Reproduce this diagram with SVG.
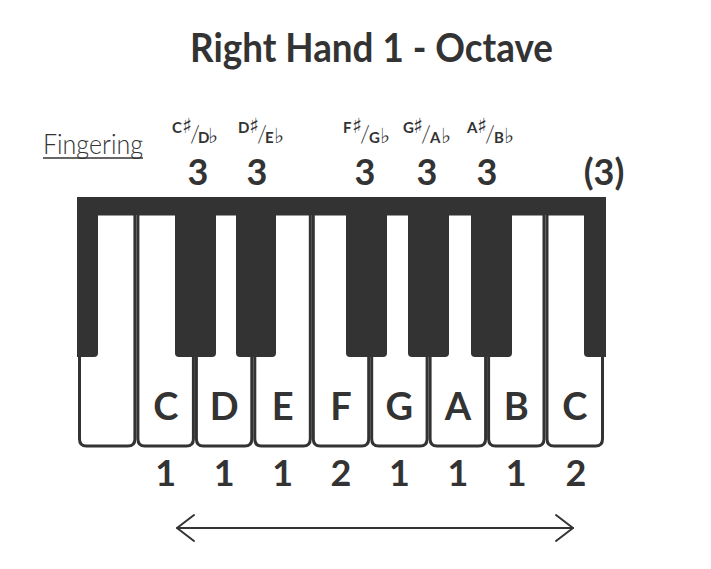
<svg xmlns="http://www.w3.org/2000/svg" width="711" height="569" viewBox="0 0 711 569">
<style>
  text { font-family: Lato, "Liberation Sans", "DejaVu Sans", sans-serif; fill: #333; }
  .title { font-size: 40px; font-weight: bold; }
  .finger { font-size: 36px; font-weight: bold; text-anchor: middle; }
  .note { font-size: 38px; font-weight: bold; text-anchor: middle; }
  .acc { font-size: 15px; font-weight: bold; }
  .sym { font-family: "DejaVu Sans", sans-serif; font-size: 21px; font-weight: normal; fill: #333; }
  .slash { font-size: 23px; font-weight: 300; fill: #333; }
  .label { font-size: 28px; font-weight: 300; }
  .white { fill: #fff; stroke: #333; stroke-width: 3; }
  .black { fill: #333; }
  .conn { fill: none; stroke: #333; stroke-width: 2; stroke-linecap: round; stroke-linejoin: round; }
</style>
<rect width="711" height="569" fill="#fff"/>

<g id="title">
  <text class="title" x="190" y="62" textLength="363" lengthAdjust="spacingAndGlyphs">Right Hand 1 - Octave</text>
</g>

<g id="fingering-label">
  <text class="label" x="43" y="154" textLength="100" lengthAdjust="spacingAndGlyphs">Fingering</text>
  <line x1="43" y1="158" x2="143" y2="158" stroke="#333" stroke-width="1.5"/>
</g>

<g id="accidentals">
  <text id="acc-cs" class="acc" x="172" y="133">C<tspan class="sym" x="182">♯</tspan><tspan class="slash" x="190" y="142">/</tspan><tspan x="198" y="143">D</tspan><tspan class="sym" x="208" y="143">♭</tspan></text>
  <text id="acc-ds" class="acc" x="238" y="133">D<tspan class="sym" x="249">♯</tspan><tspan class="slash" x="257" y="142">/</tspan><tspan x="265" y="143">E</tspan><tspan class="sym" x="274" y="143">♭</tspan></text>
  <text id="acc-fs" class="acc" x="343" y="133">F<tspan class="sym" x="352">♯</tspan><tspan class="slash" x="360" y="142">/</tspan><tspan x="369" y="143">G</tspan><tspan class="sym" x="380" y="143">♭</tspan></text>
  <text id="acc-gs" class="acc" x="403" y="133">G<tspan class="sym" x="413">♯</tspan><tspan class="slash" x="421" y="142">/</tspan><tspan x="430" y="143">A</tspan><tspan class="sym" x="441" y="143">♭</tspan></text>
  <text id="acc-as" class="acc" x="467" y="133">A<tspan class="sym" x="477">♯</tspan><tspan class="slash" x="485" y="142">/</tspan><tspan x="494" y="143">B</tspan><tspan class="sym" x="504" y="143">♭</tspan></text>
</g>

<g id="top-fingers">
  <text class="finger" x="198" y="185">3</text>
  <text class="finger" x="257" y="185">3</text>
  <text class="finger" x="365" y="185">3</text>
  <text class="finger" x="427" y="185">3</text>
  <text class="finger" x="487" y="185">3</text>
  <text class="finger" x="604" y="185">(3)</text>
</g>

<g id="keyboard">
  <rect class="black" x="77" y="197" width="529" height="18"/>
  <g id="white-keys">
    <path class="white" d="M79.5,214 V439 Q79.5,446 86.5,446 H127.9 Q134.9,446 134.9,439 V214 Z"/>
    <path class="white" d="M137.9,214 V439 Q137.9,446 144.9,446 H186.4 Q193.4,446 193.4,439 V214 Z"/>
    <path class="white" d="M196.4,214 V439 Q196.4,446 203.4,446 H244.8 Q251.8,446 251.8,439 V214 Z"/>
    <path class="white" d="M254.8,214 V439 Q254.8,446 261.8,446 H303.3 Q310.3,446 310.3,439 V214 Z"/>
    <path class="white" d="M313.3,214 V439 Q313.3,446 320.3,446 H361.7 Q368.7,446 368.7,439 V214 Z"/>
    <path class="white" d="M371.7,214 V439 Q371.7,446 378.7,446 H420.1 Q427.1,446 427.1,439 V214 Z"/>
    <path class="white" d="M430.1,214 V439 Q430.1,446 437.1,446 H478.6 Q485.6,446 485.6,439 V214 Z"/>
    <path class="white" d="M488.6,214 V439 Q488.6,446 495.6,446 H537 Q544,446 544,439 V214 Z"/>
    <path class="white" d="M547,214 V439 Q547,446 554,446 H595.5 Q602.5,446 602.5,439 V214 Z"/>
  </g>
  <g id="black-keys">
    <path class="black" d="M77,197 V357 H94 Q98,357 98,353 V197 Z"/>
    <path class="black" d="M175,197 V353 Q175,357 179,357 H212 Q216,357 216,353 V197 Z"/>
    <path class="black" d="M236,197 V353 Q236,357 240,357 H272 Q276,357 276,353 V197 Z"/>
    <path class="black" d="M346,197 V353 Q346,357 350,357 H383 Q387,357 387,353 V197 Z"/>
    <path class="black" d="M408,197 V353 Q408,357 412,357 H445 Q449,357 449,353 V197 Z"/>
    <path class="black" d="M471,197 V353 Q471,357 475,357 H508 Q512,357 512,353 V197 Z"/>
    <path class="black" d="M584,197 V353 Q584,357 588,357 H606 V197 Z"/>
  </g>
</g>

<g id="note-names">
  <text class="note" x="165.7" y="420">C</text>
  <text class="note" x="224.1" y="420">D</text>
  <text class="note" x="282.6" y="420">E</text>
  <text class="note" x="341" y="420">F</text>
  <text class="note" x="399.4" y="420">G</text>
  <text class="note" x="457.9" y="420">A</text>
  <text class="note" x="516.3" y="420">B</text>
  <text class="note" x="574.8" y="420">C</text>
</g>

<g id="bottom-fingers">
  <text class="finger" x="165.7" y="486">1</text>
  <text class="finger" x="224.1" y="486">1</text>
  <text class="finger" x="282.6" y="486">1</text>
  <text class="finger" x="341" y="486">2</text>
  <text class="finger" x="399.4" y="486">1</text>
  <text class="finger" x="457.9" y="486">1</text>
  <text class="finger" x="516.3" y="486">1</text>
  <text class="finger" x="576" y="486">2</text>
</g>

<g id="connectors">
  <line class="conn" x1="177" y1="528" x2="573" y2="528"/>
  <polyline class="conn" points="194,515 177,528 194,541"/>
  <polyline class="conn" points="556,515 573,528 556,541"/>
</g>
</svg>
